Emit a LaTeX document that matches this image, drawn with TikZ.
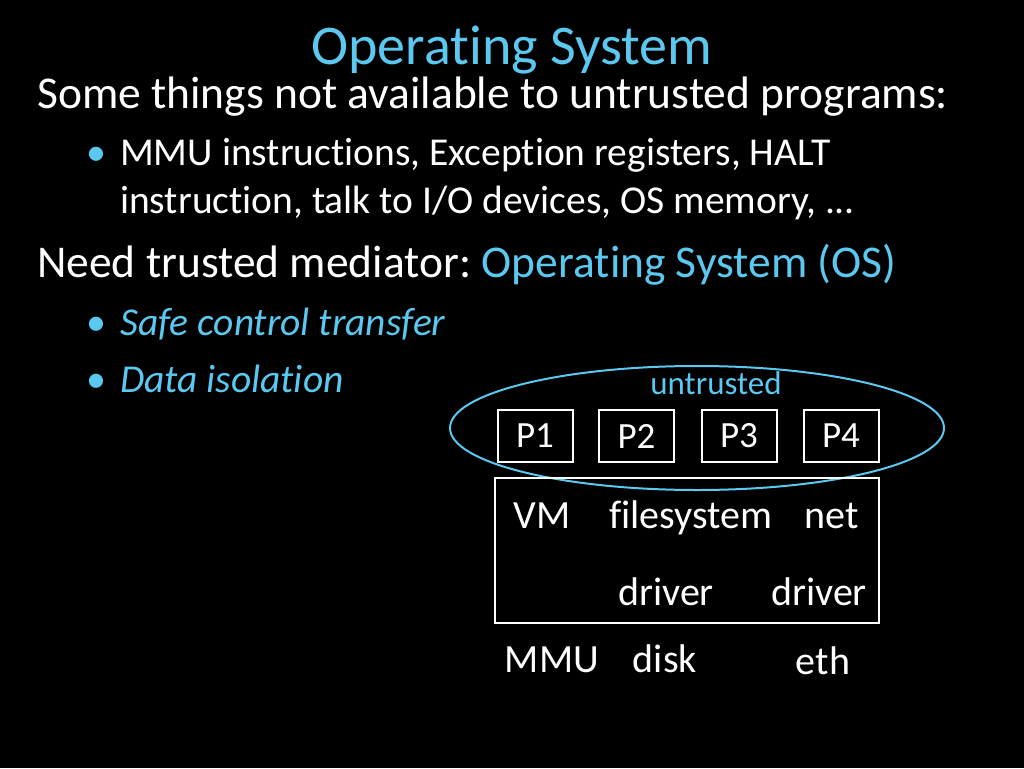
\documentclass[tikz,border=0pt]{standalone}
\usepackage{fontspec}
\setmainfont[Ligatures=NoCommon]{Carlito}
\definecolor{tblue}{HTML}{5BC8F0}
\begin{document}
\begin{tikzpicture}[x=1pt,y=-1pt,
  txt/.style={text=white,inner sep=0pt,anchor=base west},
  box/.style={draw=white,line width=2pt,minimum width=75pt,minimum height=52pt,text=white,font=\fontsize{37}{44}\selectfont}]
\fill[black] (0,0) rectangle (1024,768);
\useasboundingbox (0,0) rectangle (1024,768);
\node[text=tblue,inner sep=0pt,anchor=base,font=\fontsize{56}{66}\selectfont] (title) at (512,64) {Operating System};
\node[txt,font=\fontsize{45.5}{54}\selectfont] (l1) at (37,108) {Some things not available to untrusted programs:};
\node[txt,text=tblue,font=\fontsize{40}{48}\selectfont] (b1) at (86,165) {•};
\node[txt,font=\fontsize{39.5}{48}\selectfont] (l2) at (120,165) {MMU instructions, Exception registers, HALT};
\node[txt,font=\fontsize{39.5}{48}\selectfont] (l3) at (120,213) {instruction, talk to I/O devices, OS memory, ...};
\node[txt,font=\fontsize{45.5}{54}\selectfont] (l4) at (37,277) {Need trusted mediator:\ \textcolor{tblue}{Operating System (OS)}};
\node[txt,text=tblue,font=\fontsize{40}{48}\selectfont] (b2) at (86,335) {•};
\node[txt,text=tblue,font=\fontsize{39.5}{48}\selectfont\itshape] (l5) at (120,335) {Safe control transfer};
\node[txt,text=tblue,font=\fontsize{40}{48}\selectfont] (b3) at (86,392) {•};
\node[txt,text=tblue,font=\fontsize{39.5}{48}\selectfont\itshape] (l6) at (120,392) {Data isolation};
\node[text=tblue,inner sep=0pt,anchor=base,font=\fontsize{33}{40}\selectfont] (ut) at (716,394) {untrusted};
\node[box] (p1) at (535,436) {P1};
\node[box] (p2) at (636.5,436) {P2};
\node[box] (p3) at (739,436) {P3};
\node[box] (p4) at (841,436) {P4};
\draw[tblue,line width=2pt] (697,428) ellipse (247 and 62);
\node[draw=white,line width=2pt,minimum width=384pt,minimum height=145pt,inner sep=0pt] (os) at (687,550.5) {};
\tikzset{lab/.style={text=white,inner sep=0pt,anchor=base,font=\fontsize{40}{48}\selectfont}}
\node[lab] (vm) at (542,528) {VM};
\node[lab] (fs) at (691,528) {filesystem};
\node[lab] (net) at (832,528) {net};
\node[lab] (d1) at (666,605) {driver};
\node[lab] (d2) at (819,605) {driver};
\node[lab] (mmu) at (552,672) {MMU};
\node[lab] (disk) at (665,672) {disk};
\node[lab] (eth) at (823,674) {eth};
\end{tikzpicture}
\end{document}
